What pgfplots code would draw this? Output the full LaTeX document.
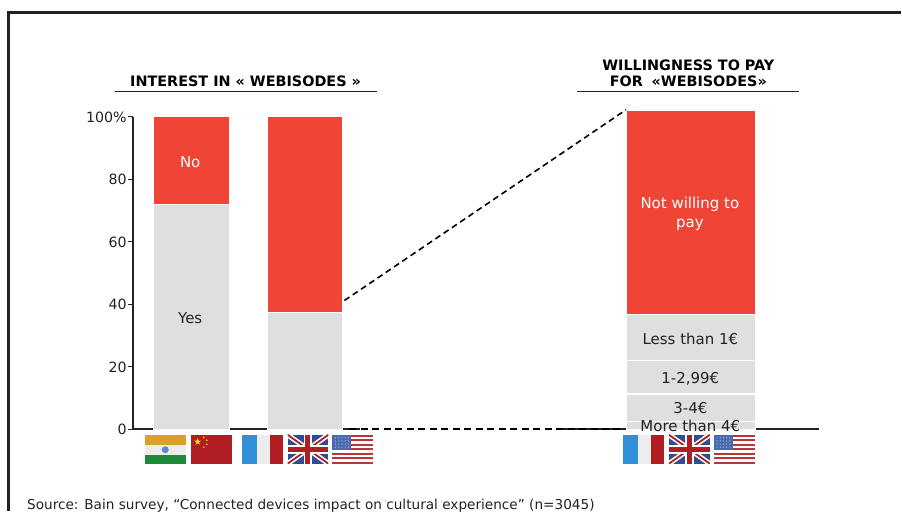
\documentclass[border=0pt]{standalone}
\usepackage{fontspec}
\setmainfont{DejaVu Sans}
\usepackage{pgfplots}
\pgfplotsset{compat=1.18}
\usetikzlibrary{shapes.geometric}
\definecolor{barred}{HTML}{EF4436}
\definecolor{bargrey}{HTML}{DFDFDF}
\definecolor{ink}{HTML}{222222}
\definecolor{fsaff}{HTML}{D9A02E}
\definecolor{fgreen}{HTML}{1E8A3C}
\definecolor{fred}{HTML}{B01E24}
\definecolor{fblue}{HTML}{2F8FD8}
\definecolor{fwhite}{HTML}{EDEDED}
\definecolor{ukblue}{HTML}{2F4E92}
\definecolor{usblue}{HTML}{4A6AB0}
% flags: #1 = left x, y in pixels from the top, 41 wide, 29 high
\newcommand{\flagIN}[1]{\begin{scope}[shift={(#1,435.5)}]
 \fill[fsaff] (0,0) rectangle (41,10); \fill[fwhite] (0,10) rectangle (41,20); \fill[fgreen] (0,20) rectangle (41,29);
 \fill[cyan!50!blue!70!white] (20.5,15) circle (3.5);\end{scope}}
\newcommand{\flagCN}[1]{\begin{scope}[shift={(#1,435.5)}]
 \fill[fred] (0,0) rectangle (41,29);
 \node[star,star points=5,star point ratio=2.4,fill=yellow!85!orange,inner sep=0pt,minimum size=7pt] at (7,7) {};
 \foreach \p in {(13,2.5),(16,5.5),(16,9.5),(13,12.5)} \fill[yellow!80!orange] \p circle (0.9);\end{scope}}
\newcommand{\flagFR}[1]{\begin{scope}[shift={(#1,435.5)}]
 \fill[fblue] (0,0) rectangle (15,29); \fill[fwhite] (15,0) rectangle (28,29); \fill[fred] (28,0) rectangle (41,29);\end{scope}}
\newcommand{\flagUK}[1]{\begin{scope}[shift={(#1,435.5)}]
 \begin{scope}\clip (0,0) rectangle (41,29);
 \fill[ukblue] (0,0) rectangle (41,29);
 \draw[white,line width=5pt] (0,0) -- (41,29) (41,0) -- (0,29);
 \draw[fred,line width=1.8pt] (0,0) -- (41,29) (41,0) -- (0,29);
 \fill[white] (16,0) rectangle (25,29); \fill[white] (0,10) rectangle (41,19);
 \fill[fred] (18,0) rectangle (23,29); \fill[fred] (0,12) rectangle (41,17);
 \end{scope}\end{scope}}
\newcommand{\flagUS}[1]{\begin{scope}[shift={(#1,435.5)}]
 \fill[white] (0,0) rectangle (41,29);
 \foreach \k in {0,2,4,6,8,10,12} \fill[fred!90!white] (0,{\k*29/13}) rectangle (41,{(\k+1)*29/13});
 \fill[usblue] (0,0) rectangle (19,15.6);
 \foreach \i in {1,...,5} \foreach \j in {1,...,4} \fill[white!85!usblue] ({\i*3.2},{\j*3.1}) circle (0.55);\end{scope}}
\begin{document}
\begin{tikzpicture}[x=1pt,y=1pt]
\path (0,0) rectangle (902,512);
% left panel
\begin{axis}[
  at={(133.5pt,82pt)}, anchor=origin, scale only axis,
  width=227pt, height=313pt,
  xmin=133, xmax=360, ymin=0, ymax=100,
  axis x line=bottom, axis y line=left,
  axis line style={-,ink,line width=2pt},
  xtick=\empty,
  ytick={0,20,40,60,80,100},
  yticklabels={0,20,40,60,80,100\%},
  tick style={ink,line width=1.2pt},
  tick align=outside, major tick length=5pt,
  /pgf/number format/assume math mode=true,
  tick label style={font=\fontsize{14.2}{16}\selectfont,text=ink},
  yticklabel style={inner sep=1.5pt,yshift=-0.5pt},
  ybar stacked, bar width=76pt,
  clip=false,
]
\addplot[fill=bargrey,draw=white,line width=1pt] coordinates {(191,72) (305,37.5)};
\addplot[fill=barred,draw=white,line width=1pt] coordinates {(191,28) (305,62.5)};
\end{axis}
% right panel
\begin{axis}[
  at={(563.5pt,82pt)}, anchor=origin, scale only axis,
  width=257pt, height=320pt,
  xmin=563, xmax=820, ymin=0, ymax=100,
  axis x line=bottom, axis y line=none,
  axis line style={-,ink,line width=2pt},
  xtick=\empty, ytick=\empty,
  ybar stacked, bar width=129pt,
  clip=false,
]
\addplot[fill=bargrey,draw=white,line width=1.5pt] coordinates {(691.5,2.5)};
\addplot[fill=bargrey,draw=white,line width=1.5pt] coordinates {(691.5,8.5)};
\addplot[fill=bargrey,draw=white,line width=1.5pt] coordinates {(691.5,10.5)};
\addplot[fill=bargrey,draw=white,line width=1.5pt] coordinates {(691.5,14.5)};
\addplot[fill=barred,draw=white,line width=1.5pt] coordinates {(691.5,64)};
\end{axis}
\begin{scope}[shift={(0pt,512pt)},y=-1pt]
 \draw[ink,line width=3pt] (902,12.5) -- (8.5,12.5) -- (8.5,512);
 \draw[black,line width=1.6pt,dash pattern=on 6pt off 4pt] (345,301) -- (627,110);
 \draw[black,line width=1.6pt,dash pattern=on 7pt off 4.5pt] (350,430) -- (625,430);
 \node[font=\bfseries\fontsize{14.4}{16}\selectfont,text=black] at (246,81) {INTEREST IN « WEBISODES »};
 \draw[ink,line width=1pt] (115,91.5) -- (378,91.5);
 \node[font=\bfseries\fontsize{14.4}{16}\selectfont,text=black,align=center] at (689.5,73) {WILLINGNESS TO PAY\\FOR\hspace{0.6em}«WEBISODES»};
 \draw[ink,line width=1pt] (578,91.5) -- (800,91.5);
 \node[anchor=base west,inner sep=0pt,font=\fontsize{13.65}{16}\selectfont,text=ink] at (27,510.5) {Source: Bain survey, “Connected devices impact on cultural experience” (n=3045)};
 \node[text=white,font=\fontsize{15}{16}\selectfont] at (190.5,162.5) {No};
 \node[text=ink,font=\fontsize{15}{16}\selectfont] at (190.5,318.5) {Yes};
 \node[text=white,font=\fontsize{15}{18.5}\selectfont,align=center] at (691,214) {Not willing to\\pay};
 \node[text=ink,font=\fontsize{15}{16}\selectfont] at (691.5,339.5) {Less than 1€};
 \node[text=ink,font=\fontsize{15}{16}\selectfont] at (691.5,379.5) {1-2,99€};
 \node[text=ink,font=\fontsize{15}{16}\selectfont] at (691.5,408.5) {3-4€};
 \node[text=ink,font=\fontsize{15}{16}\selectfont] at (691.5,427) {More than 4€};
 \flagIN{145}\flagCN{191}\flagFR{242}\flagUK{288}\flagUS{333}
 \flagFR{624}\flagUK{670}\flagUS{715}
\end{scope}
\end{tikzpicture}
\end{document}
